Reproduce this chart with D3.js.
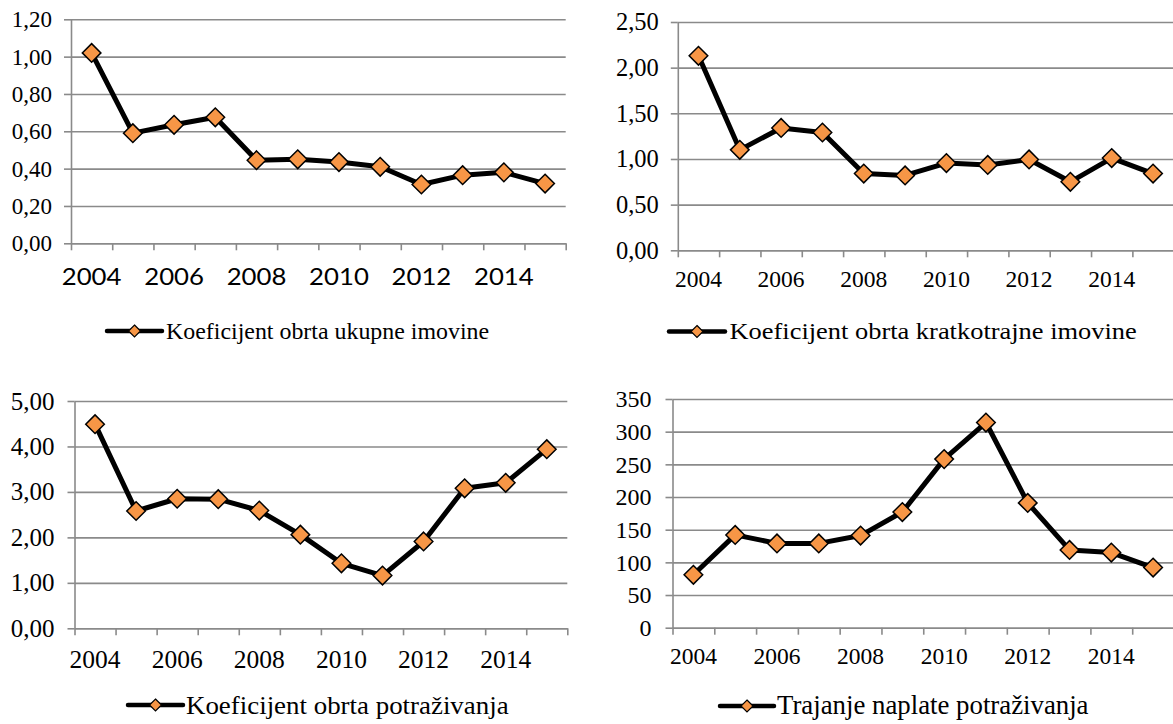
<!DOCTYPE html>
<html>
<head>
<meta charset="utf-8">
<script src="https://cdn.jsdelivr.net/npm/d3@7"></script>
<style>
  body { margin: 0; background: #fff; }
  svg { display: block; }
</style>
</head>
<body>
<div id="chart"></div>
<script>
// categories
var years = [2004, 2005, 2006, 2007, 2008, 2009, 2010, 2011, 2012, 2013, 2014, 2015];
var shownYears = [2004, 2006, 2008, 2010, 2012, 2014];

// series values
var ukupnaImovina = [1.02, 0.59, 0.635, 0.675, 0.445, 0.45, 0.435, 0.41, 0.315, 0.365, 0.38, 0.32];
var kratkotrajnaImovina = [2.13, 1.10, 1.34, 1.29, 0.84, 0.82, 0.955, 0.935, 0.995, 0.75, 1.01, 0.84];
var obrtPotrazivanja = [4.49, 2.58, 2.85, 2.84, 2.59, 2.06, 1.43, 1.16, 1.91, 3.08, 3.20, 3.94];
var trajanjeNaplate = [81, 142, 129, 129, 141, 177, 258, 314, 191, 119, 115, 92];

// y tick labels
var ticks1 = [0, 0.2, 0.4, 0.6, 0.8, 1.0, 1.2];
var ticks2 = [0, 0.5, 1.0, 1.5, 2.0, 2.5];
var ticks3 = [0, 1, 2, 3, 4, 5];
var ticks4 = [0, 50, 100, 150, 200, 250, 300, 350];

var serif = '"Liberation Serif", "Times New Roman", serif',
    sans = 'Lato, "Open Sans", sans-serif',
    gridColor = '#8a8a8a',
    markerFill = '#F79646';

var locale = d3.formatLocale({ decimal: ',', thousands: '.', grouping: [3], currency: ['', ''] });
var fmt2 = locale.format('.2f'),
    fmt0 = locale.format('d');

var svg = d3.select('#chart')
  .append('svg')
  .attr('width', 1173)
  .attr('height', 724);

svg.append('rect')
  .attr('width', 1173)
  .attr('height', 724)
  .attr('fill', '#fff');

var diamond = function(r) {
  return 'M0,' + (-r) + 'L' + r + ',0L0,' + r + 'L' + (-r) + ',0Z';
};

/**
 * Draws one small line chart with its own legend.
 */
function drawPanel(p) {
  var g = svg.append('g');

  var y = d3.scaleLinear().domain(p.domain).range([p.bottom, p.top]);
  var x = d3.scaleBand().domain(years).range([p.left, p.right]).paddingInner(0).paddingOuter(0);
  var edge = d3.scaleLinear().domain([0, years.length]).range([p.left, p.right]);
  var cx = function(i) { return x(years[i]) + x.bandwidth() / 2; };

  // gridlines
  g.append('g')
    .attr('transform', 'translate(' + p.left + ',0)')
    .call(d3.axisLeft(y).tickValues(p.ticks).tickSize(-(p.right - p.left)).tickFormat(''))
    .call(function(s) {
      s.select('.domain').remove();
      s.selectAll('line').attr('stroke', gridColor).attr('stroke-width', 1.6);
    });

  // y axis
  g.append('g')
    .attr('transform', 'translate(' + p.left + ',0)')
    .call(d3.axisLeft(y).tickValues(p.ticks).tickSize(7).tickSizeOuter(0).tickPadding(p.yPad).tickFormat(p.format))
    .call(function(s) {
      s.select('.domain').attr('stroke', gridColor).attr('stroke-width', 1.6);
      s.selectAll('line').attr('stroke', gridColor).attr('stroke-width', 1.6);
      s.selectAll('text')
        .attr('fill', '#000')
        .style('font-family', serif)
        .style('font-size', p.yFont + 'px');
    });

  // x axis ticks on the category edges
  g.append('g')
    .attr('transform', 'translate(0,' + p.bottom + ')')
    .call(d3.axisBottom(edge).tickValues(d3.range(years.length + 1)).tickSize(7).tickSizeOuter(0).tickFormat(''))
    .call(function(s) {
      s.select('.domain').attr('stroke', gridColor).attr('stroke-width', 1.6);
      s.selectAll('line').attr('stroke', gridColor).attr('stroke-width', 1.6);
    });

  // x labels, every other year
  g.append('g').selectAll('text')
    .data(shownYears)
    .join('text')
    .attr('transform', function(d) {
      return 'translate(' + (x(d) + x.bandwidth() / 2) + ',' + p.xBase + ') scale(' + (p.xStretch || 1) + ',1)';
    })
    .attr('text-anchor', 'middle')
    .style('font-family', p.xFamily)
    .style('font-size', p.xFont + 'px')
    .text(function(d) { return d; });

  // series line
  var line = d3.line()
    .x(function(d, i) { return cx(i); })
    .y(function(d) { return y(d); });

  g.append('path')
    .datum(p.values)
    .attr('d', line)
    .attr('fill', 'none')
    .attr('stroke', '#000')
    .attr('stroke-width', 5)
    .attr('stroke-linejoin', 'round');

  g.append('g').selectAll('path')
    .data(p.values)
    .join('path')
    .attr('transform', function(d, i) { return 'translate(' + cx(i) + ',' + y(d) + ')'; })
    .attr('d', diamond(9.3))
    .attr('fill', markerFill)
    .attr('stroke', '#000')
    .attr('stroke-width', 1.5);

  // legend
  var lg = svg.append('g');
  lg.append('line')
    .attr('x1', p.legend.x1).attr('x2', p.legend.x2)
    .attr('y1', p.legend.y).attr('y2', p.legend.y)
    .attr('stroke', '#000')
    .attr('stroke-width', 4.5)
    .attr('stroke-linecap', 'round');
  lg.append('path')
    .attr('transform', 'translate(' + (p.legend.x1 + p.legend.x2) / 2 + ',' + p.legend.y + ')')
    .attr('d', diamond(6))
    .attr('fill', markerFill)
    .attr('stroke', '#000')
    .attr('stroke-width', 1.2);
  lg.append('text')
    .attr('transform', 'translate(' + p.legend.tx + ',' + p.legend.base + ') scale(' + (p.legend.stretch || 1) + ',1)')
    .style('font-family', serif)
    .style('font-size', p.legend.font + 'px')
    .text(p.name);
}

drawPanel({
  name: 'Koeficijent obrta ukupne imovine',
  values: ukupnaImovina, ticks: ticks1, domain: [0, 1.2], format: fmt2,
  left: 71, right: 565.7, top: 19.3, bottom: 243.3,
  yFont: 23, yPad: 12, xFamily: sans, xFont: 23, xStretch: 1.12, xBase: 285,
  legend: { x1: 107, x2: 162, y: 331, tx: 166, base: 338.5, font: 23.9 }
});

drawPanel({
  name: 'Koeficijent obrta kratkotrajne imovine',
  values: kratkotrajnaImovina, ticks: ticks2, domain: [0, 2.5], format: fmt2,
  left: 677.8, right: 1173.7, top: 22, bottom: 250.3,
  yFont: 24.5, yPad: 12, xFamily: serif, xFont: 23.5, xBase: 286.5,
  legend: { x1: 669, x2: 725, y: 331.5, tx: 729.5, base: 339, font: 23.5, stretch: 1.125 }
});

drawPanel({
  name: 'Koeficijent obrta potraživanja',
  values: obrtPotrazivanja, ticks: ticks3, domain: [0, 5], format: fmt2,
  left: 74.5, right: 567.3, top: 401, bottom: 628.3,
  yFont: 25, yPad: 13, xFamily: serif, xFont: 25.5, xBase: 668,
  legend: { x1: 128, x2: 183, y: 705, tx: 186, base: 713.5, font: 25.5, stretch: 1.055 }
});

drawPanel({
  name: 'Trajanje naplate potraživanja',
  values: trajanjeNaplate, ticks: ticks4, domain: [0, 350], format: fmt0,
  left: 672.5, right: 1174, top: 399, bottom: 627.7,
  yFont: 24, yPad: 14, xFamily: serif, xFont: 23.5, xBase: 663.5,
  legend: { x1: 720, x2: 774, y: 706, tx: 777, base: 714, font: 26.8 }
});
</script>
</body>
</html>
